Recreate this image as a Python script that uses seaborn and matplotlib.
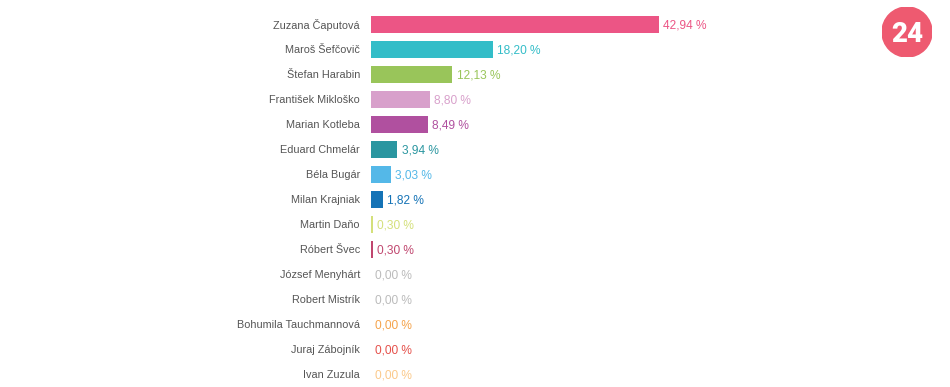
import matplotlib.pyplot as plt
import seaborn as sns
import pandas as pd

candidates = ["Zuzana Čaputová", "Maroš Šefčovič", "Štefan Harabin", "František Mikloško",
              "Marian Kotleba", "Eduard Chmelár", "Béla Bugár", "Milan Krajniak",
              "Martin Daňo", "Róbert Švec", "József Menyhárt", "Robert Mistrík",
              "Bohumila Tauchmannová", "Juraj Zábojník", "Ivan Zuzula"]
votes_pct = [42.94, 18.20, 12.13, 8.80, 8.49, 3.94, 3.03, 1.82,
             0.30, 0.30, 0.00, 0.00, 0.00, 0.00, 0.00]
colors = ["#EC5585", "#33BDC8", "#99C55A", "#D8A0CB", "#B0509F", "#2A96A0",
          "#54B8E8", "#1573B6", "#D4E07A", "#C0466E", "#BBBBBB", "#BBBBBB",
          "#F5A34A", "#E5504A", "#FBC98A"]

df = pd.DataFrame({"name": candidates, "pct": votes_pct})

sns.set_style("white")
plt.rcParams['font.family'] = ['Liberation Sans', 'DejaVu Sans']

fig = plt.figure(figsize=(9.5, 3.87), dpi=100)
ax = fig.add_axes([371 / 950, 0.5 / 387, (50 * 6.71) / 950, 375 / 387])

sns.barplot(data=df, x="pct", y="name", hue="name", palette=colors, legend=False,
            orient="h", width=0.68, linewidth=0, saturation=1, ax=ax)

ax.set_xlim(0, 50)
ax.set_ylim(14.5, -0.5)
for i, (v, c) in enumerate(zip(votes_pct, colors)):
    ax.annotate(f"{v:.2f} %".replace(".", ","), xy=(v, i), xytext=(3, 0),
                textcoords="offset points", va="center_baseline", ha="left",
                fontsize=8.6, color=c)

ax.set_xlabel("")
ax.set_ylabel("")
ax.set_xticks([])
ax.tick_params(axis="y", length=0, pad=8, labelsize=7.8, labelcolor="#555555")
sns.despine(ax=ax, left=True, bottom=True)

# logo badge
logo = fig.add_axes([882 / 950, 1 - 57 / 387, 50 / 950, 50 / 387])
logo.add_patch(plt.Circle((0.5, 0.5), 0.5, color="#EE5A70"))
logo.text(0.5, 0.5, "24", ha="center", va="center_baseline", color="white",
          fontsize=20, fontweight="black", family=["Roboto", "DejaVu Sans"])
logo.set_xlim(0, 1)
logo.set_ylim(0, 1)
logo.set_aspect("equal")
logo.axis("off")

fig.savefig("out.png", dpi=100)
